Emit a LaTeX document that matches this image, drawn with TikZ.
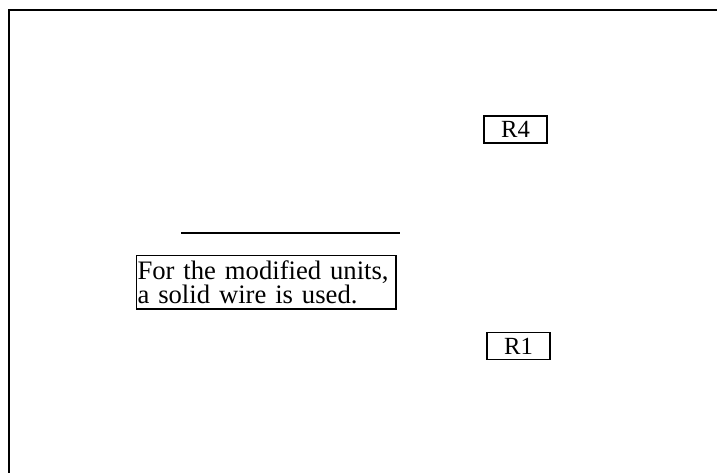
\documentclass[tikz,border=0pt]{standalone}
\usepackage{fontspec}
\setmainfont{Liberation Serif}
\begin{document}
\begin{tikzpicture}[x=0.75pt,y=-0.75pt,
  frame/.style={line width=2pt},
  rlabel/.style={draw,line width=1.1pt,inner sep=0pt,minimum width=63*0.75pt,minimum height=27*0.75pt,font=\fontsize{18.5}{19}\selectfont},
  note/.style={draw,line width=1.1pt,inner xsep=1pt,inner ysep=3.5pt,text width=257*0.75pt,align=left,anchor=north west,font=\fontsize{20}{18.5}\selectfont}]
\useasboundingbox (0,0) rectangle (717,473);
\coordinate (tl) at (9,10);
\coordinate (tr) at (717,10);
\coordinate (bl) at (9,473);
\draw[frame] (tr) -- (tl) -- (bl);
\coordinate (wa) at (181,233);
\coordinate (wb) at (400,233);
\draw[line width=1.3pt] (wa) -- (wb);
\node[note] (n) at (135.5,255) {For the modified units,\\a solid wire is used.};
\node[rlabel] (r4) at (515.5,129.5) {R4};
\node[rlabel] (r1) at (518.5,346) {R1};
\end{tikzpicture}
\end{document}
